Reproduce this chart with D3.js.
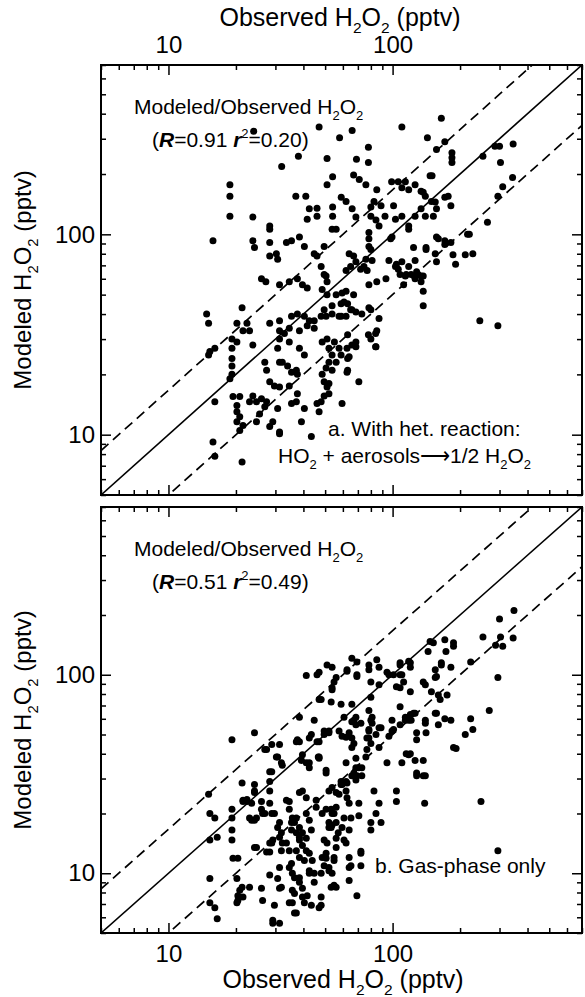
<!DOCTYPE html>
<meta charset="utf-8">
<style>
body { margin: 0; background: #fff; }
svg text { font-family: "Liberation Sans", Arial, Helvetica, sans-serif; fill: #000; }
.frame { fill: none; stroke: #000; stroke-width: 2; }
.tick line { stroke: #000; stroke-width: 1.5; }
.one2one { fill: none; stroke: #000; stroke-width: 1.6; }
.factor { fill: none; stroke: #000; stroke-width: 1.7; stroke-dasharray: 10,6; }
</style>
<body>
<script src="https://d3js.org/d3.v7.min.js"></script>
<script>

// axis ticks (pptv)
var axisDomain = [5, 700];
var majorTicks = [10, 100];
var minorTicks = [5, 6, 7, 8, 9, 20, 30, 40, 50, 60, 70, 80, 90, 200, 300, 400, 500, 600, 700];

// reference lines: y = k * x  (1:1 solid, the two others dashed)
var lineFactors = [1, 5 / 3, 0.5];

// panel texts
var statsA = ["0.91", "0.20"];
var statsB = ["0.51", "0.49"];

// [observed, modeled] H2O2, pptv -- a. with het. reaction
var pointsA = [
  [47,343],[66,330],[110,343],[58,303],[143,303],[165,380],[78,272],[38,245],[51,239],[32,218],[69,237],[78,228],[157,265],[24,327],
  [54,194],[51,177],[67,198],[71,188],[76,177],[85,167],
  [99,183],[106,183],[114,183],[110,171],[118,167],[126,177],[134,164],[147,196],
  [18.8,177],[18.8,155],[18.8,123],[23.8,122],
  [37,155],[41,155],[42.5,134],[46,135],[46,123],[41.6,119],
  [54,137],[54,123],[59,153],[62,146],[66,134],[68.6,122],
  [80,137],[82.6,146],[88.8,139],[80,123],[84.3,118],[92.5,123],[101,139],[103,119],
  [110,123],[118,110],[126,123],[134,134],[140,123],[152,123],[155,145],[157,134],
  [87,110],[28.3,110],[28.3,106],[15.8,93],[23.8,93],[24.2,86],
  [28.3,91],[28.3,78],[30.3,80],[30.7,75],
  [33.6,91],[35.4,93],[38.4,97],[40.4,87],
  [44.7,80],[46,78],[49.5,87],[53.7,106],[56,106],
  [64,80],[67,78],[68.6,73],[65,69],[62,66],
  [48,69],[49.5,63],[50.5,62],[51,58],
  [78.4,102],[78.4,95],[78.4,87],[80,84],[76,75],[81,74],[99.4,97],
  [26,60],[27.2,58],[31.3,56],[34.6,58],[37.6,60],[39.6,56],[41.6,54],
  [48.5,53],[51,50],[56,50],[59.5,51],[60.7,46],[58.9,45],[62,52],
  [78.4,56],[85,58],[93.4,60],
  [110,73],[118,69],[121,63],[126,74],[130,63],[134,62],[137,52],[141,84],[155,80],[157,73],[171,93],[157,97],
  [106,67],[114,62],[137,44],
  [21.3,43],[22.4,36],[21.5,33],[23,33],[23.8,28],
  [14.8,40],[15.1,36],
  [19.2,30],[19.2,27],[19.2,24],[19.2,22],[19.2,20],[18.8,19],
  [15.3,26],[16.1,27],[15.1,25],
  [20.2,36],[20.2,29],
  [28.3,36],[31.3,37],[31.3,33],[32.9,32],[34.6,34],
  [35.4,39],[37.6,40],[40.4,39],[42.5,37],
  [44.7,37],[48,39],[50.5,39],[53.7,40],[57.7,39],[62,39],[65.8,42],[68.6,41],[72.9,40],[80,42],[87,38],
  [41.6,35],[44.7,34],[49.5,42],[53.7,44],
  [38.4,33],[38.4,27],[40.4,25],
  [31.3,30],[34.6,29],[30.7,27],[31.3,23],
  [26.9,23],[27.4,21],
  [32.2,23],[34,22],[35.4,20.5],[37.6,20],[37.2,21],
  [34.6,17.5],[28.3,18.4],[29.7,17.5],[31.3,17.3],
  [23.8,15.6],[24.7,14.6],[27.4,14.6],[26.9,13.8],
  [30.7,13.5],[31.3,10.3],[29.2,11.6],[24.7,11.6],[25.5,12.7],
  [37.6,16],[37.2,14.6],[40.4,13.5],[39.2,11.6],[46,14.3],
  [48.5,29],[51,30],[52,27],[53.7,25],[52,23],[50.5,21.5],[56,23],[58.9,25],[62.6,27],[64,24.5],[62.6,20.5],
  [48.5,20],[49.5,18.4],[51,17.3],[49.5,15.6],[48,14.6],[59.5,14.3],[70.7,18.4],
  [65.8,28],[68.6,27.5],[80,30],[84.3,27.5],[85,33],[78.4,43],
  [23,14.6],[19.4,15.5],[20.8,15.5],[20.2,14],[20.2,13],[20.8,12.3],[20.2,11.6],[21.5,11.1],[20.8,10.5],
  [28.3,11],[31.3,10.1],[43.4,9.8],[16.1,14.6],[15.8,9.2],[16.1,7.8],[21.3,7.3],
  [96.3,74],[103,69],[115,63],[126,60],[134,58],[112,56],
  [47,13],[35.4,14.3],[26,15.1],
  [171,290],[184,255],[184,241],[184,228],[253,245],[286,275],[300,275],[345,282],[303,228],[150,196],
  [343,192],[310,173],[295,155],[265,115],[220,100],[182,139],[171,153],[177,155],[140,155],[137,162],
  [149,146],[160,95],[124,86],[141,86],[98,95],[118,106],
  [171,89],[182,91],[216,100],[186,79],[191,71],[211,79],[228,80],
  [128,65],[137,62],[104,71],[108,63],
  [72,67],[74.5,69],[77,66],
  [67,50],[63,45],[65,42],[59,39],
  [84,32],[78,31.5],[84,27.5],
  [245,37],[295,35],
  [63,31.5],[68.6,29],[63,24],[63,21],
  [55,29],[57.7,27],[53.7,21],[52,18],[52,16]
];

// [observed, modeled] H2O2, pptv -- b. gas-phase only
var pointsB = [
  [65.8,121],[69.3,116],[51,112],[53.7,109],[78.4,112],[85,119],[87,109],[41.2,99],[46,100],
  [56,97],[54.8,92],[53.7,86],[62.6,104],[69.3,100],[69.3,98],
  [80,92],[87,89],[94.4,103],[96.3,100],[101,100],
  [108,115],[120,115],[110,100],[112,92],[108,86],[104,87],[120,82],
  [137,92],[140,89],[155,106],[155,97],[147,147],[152,145],[144,131],[165,115],[171,150],[173,131],
  [48,75],[53.2,73],[58.9,71],[65.8,71],[38.4,61],[44.7,59],
  [60.7,61],[65.8,58],[68.6,56],[72.2,57],[68.6,61],
  [78.4,66],[80,59],[81,61],[88.8,54],
  [99.4,59],[108,69],[114,61],[118,59],[120,63],[126,64],[140,59],[155,64],[160,56],[171,60],
  [78.4,53],[78.4,48],[80,45],[76.8,42],[76,38.5],[87,43],
  [64,51],[62,48.5],[65.8,48],[65.8,43],[57.7,52],[59.5,49],[49.5,50],[52,52],
  [43.4,50],[42.5,48],[46,46],[37.2,46],[37.6,47],[31.3,44.5],[27.4,42],
  [30.7,38.5],[39.6,39.5],[42.5,36],[46.6,38.5],
  [94.4,36],[110,36],[115,40],[120,40],[126,37],[137,37],[128,32],[137,31],
  [62,36],[68.6,34],[67.2,32],[69.3,31],[72.9,31],[50.5,32],
  [58.9,29],[58.9,28],[62.6,28.5],[62,26],[53.7,27],[56,25.5],
  [82.6,26],[104,26],[104,23],[87,22.5],[139,22.5],
  [31.9,36],[28.3,32.5],[28.3,29],
  [21.3,28.5],[24.2,28],[24.2,26],[21.5,23.3],[22.4,23],[23.5,22.5],
  [28.3,22.5],[26.9,20],[28.9,20],[26,23],
  [15.1,25],[15.3,20],[16.1,19],[19.2,21],[19.2,19],
  [23,19],[24.2,18.5],[24.7,19],[15.3,14.7],[16.5,15.2],[19.2,16.5],[19.2,14.7],
  [19.4,11.9],[20.4,11.9],[24.2,13.5],[27.4,12.8],
  [33.6,23.3],[34.6,21],[35.7,19],[36.5,18],
  [38.4,25.5],[41.2,24],[45.6,23.3],[45.6,21.5],[48.5,20],[50.5,21],[53.7,20],
  [35.4,16.5],[37.2,16],[38.4,15.2],[38.4,14.7],[41.2,15],
  [30.7,17],[31.9,16],[32.2,14.2],[31.9,13],[33.6,14.2],[34.6,13],[37.2,13],[28.3,14.2],[29.2,14.7],
  [52,18],[56,18],[59.5,17],[49.5,14.7],[51,14.2],[56,15],[62,14.2],
  [64,12],[65.2,10.9],[72.2,12.9],[48.5,12],[50.5,11.9],[52,10.7],
  [38.4,12],[40.4,11.6],[42.5,10.3],[31.3,10.7],[34.6,10.7],[38.4,9.5],
  [30.7,9.4],[31.9,8.5],[31.3,8.4],[26,8.4],[26.3,7.3],
  [23,8.5],[20.8,8.2],[20.4,7.7],[20.4,7.3],[20.2,7.1],[21.5,7.6],
  [15.3,9.4],[15.3,7.1],[16.1,6.7],[16.5,5.9],
  [29.7,6.9],[34.6,7.1],[37.2,6.3],[29.2,5.6],[31.3,5.6],
  [39.6,7.6],[40.4,7.1],[43.4,6.9],[48,7.6],[48,6.9],[69.3,7.7],[64,9.2],
  [44.7,9],[53.2,8.5],[56,8.5],[38.4,9],
  [19.2,47],[24.2,51],[28.3,26],[26,21],
  [20.2,9.4],[21.3,8.5],[21.5,23],[22.4,23.5],[24.2,25.5],[23.5,18.5],[24.7,13.5],
  [26.9,42],[28.9,44.5],[30.3,38.5],[32.2,35],[28.9,32.5],
  [26.3,20],[29.7,20],[28.9,14.2],[28.3,12.8],[28.3,9.8],[29.2,5.8],
  [31.3,18],[31.3,15.2],[34.6,23],[37.2,19],[35.4,18],
  [35.4,11.2],[35.7,10],[36.5,9.5],[35.7,8.2],[36.5,7.9],[35.7,7.1],[36.5,6.3],
  [38.4,46],[47,46],[49.5,52],[39.2,37],[41.2,36],[42.5,34],[47,38.5],
  [39.6,26],[41.2,20],[42.5,18.5],[38.4,17],[39.6,16],[43.4,16.5],
  [39.6,13.8],[41.2,13],[42.5,12.6],[43.8,11.6],[49.5,10.9],[50.5,12.6],[54.8,11.6],
  [42.5,10],[44.7,10],[48,10],[39.6,8.4],[41.6,7.7],[47,6.7],
  [53.2,21],[56,21.5],[52,17],[56,13.5],[53.7,10],
  [50.5,33],[52,51],[53.7,84],[47,75],[47,38],
  [295,97],[270,66],[165,112],[182,109],[157,98],[223,116],
  [149,82],[160,79],[175,79],[163,75],[157,64],[182,59],
  [223,60],[211,50],[228,53],[187,43],[192,42.5],
  [140,57],[128,51],[128,47],[141,51],[121,59],[114,59],[124,64],
  [108,56],[101,53],[118,39.5],[128,31],[140,31],
  [248,23],[295,13],
  [84.3,20],[80,18],[80,16.5],[88.8,18],
  [72.2,12.6],[72.2,10.9],[64,10.7],[60.7,14.7],[54.8,12],[52,10.3],[54.8,8.7],
  [64,22.5],[70.7,22.5],[62.6,24],[65.2,19],[70.7,19.5],[60.7,19],
  [64,16.5],[57.2,16],[53.2,17],
  [96.3,49],[99.4,52],[87,54],[84.3,50],
  [80,77],[81,57],[78.4,52],[76.8,48],[72.9,34],
  [67.2,59],[67.2,45],[68.6,38],[70.7,34],[65.8,31],[68.6,29.5],[62,29],[59.5,28],
  [52,26],[57.7,25],[54.8,20],[53.7,17.5],
  [348,211],[300,191],[253,155],[303,155],[345,153],[288,141],[310,139],
  [187,145],[187,139],[118,117],[120,109],[108,112],[108,100],[62.6,106],[78.4,106],[47,103]
];

var width = 585, height = 997;
var left = 101, right = 582;

var H2O2 = [["H"], ["2", "sub"], ["O"], ["2", "sub"]];

var panels = [
  { id: "a", points: pointsA, top: 65, bottom: 495, labelTop: true, stats: statsA,
    notes: [
      { x: 328, y: 436, parts: [["a. With het. reaction:"]] },
      { x: 278, y: 463, parts: [["HO"], ["2", "sub"], [" + aerosols"], ["\u27F6"], ["1/2 H"], ["2", "sub"], ["O"], ["2", "sub"]] }
    ] },
  { id: "b", points: pointsB, top: 507, bottom: 933, labelTop: false, stats: statsB,
    notes: [
      { x: 375, y: 873, parts: [["b. Gas-phase only"]] }
    ] }
];

var svg = d3.select("body").append("svg")
    .attr("width", width)
    .attr("height", height);

// text with sub/superscripts built from [string, kind] parts
function rich(text, F, parts) {
  var cur = 0;
  parts.forEach(function(p) {
    var kind = p[1] || "";
    var off = kind == "sub" ? 0.28 * F : kind == "sup" ? -0.42 * F : 0;
    var ts = text.append("tspan").text(p[0]).attr("dy", off - cur);
    cur = off;
    if (kind == "sub" || kind == "sup") ts.attr("font-size", 0.62 * F);
    if (kind == "bi") ts.attr("font-weight", "bold").attr("font-style", "italic");
  });
  return text;
}

function makeAxis(side, scale) {
  if (side == "top") return d3.axisTop(scale);
  if (side == "bottom") return d3.axisBottom(scale);
  if (side == "left") return d3.axisLeft(scale);
  return d3.axisRight(scale);
}

panels.forEach(function(p) {
  var x = d3.scaleLog().domain(axisDomain).range([left, right]);
  var y = d3.scaleLog().domain(axisDomain).range([p.bottom, p.top]);

  var g = svg.append("g").attr("class", "panel-" + p.id);

  g.append("clipPath").attr("id", "clip-" + p.id)
    .append("rect")
      .attr("x", left).attr("y", p.top)
      .attr("width", right - left).attr("height", p.bottom - p.top);

  // axes, ticks pointing inward
  var sides = [
    { side: "top", scale: x, t: "translate(0," + p.top + ")", label: p.labelTop, pad: 12 },
    { side: "bottom", scale: x, t: "translate(0," + p.bottom + ")", label: !p.labelTop, pad: 12 },
    { side: "left", scale: y, t: "translate(" + left + ",0)", label: true, pad: 6 },
    { side: "right", scale: y, t: "translate(" + right + ",0)", label: false, pad: 6 }
  ];
  sides.forEach(function(s) {
    g.append("g").attr("transform", s.t)
        .call(makeAxis(s.side, s.scale).tickValues(minorTicks).tickSize(-5).tickFormat(""))
        .call(function(a) { a.select(".domain").remove(); });
    g.append("g").attr("transform", s.t)
        .call(makeAxis(s.side, s.scale).tickValues(majorTicks).tickSize(-10).tickPadding(s.pad)
          .tickFormat(s.label ? d3.format("d") : ""))
        .attr("font-size", 24)
        .call(function(a) { a.select(".domain").remove(); });
  });

  // reference lines
  var line = d3.line();
  g.append("g").attr("clip-path", "url(#clip-" + p.id + ")")
    .selectAll("path")
    .data(lineFactors)
    .join("path")
      .attr("class", function(k, i) { return i == 0 ? "one2one" : "factor"; })
      .attr("d", function(k) {
        return line(axisDomain.map(function(v) { return [x(v), y(v * k)]; }));
      });

  // annotation texts
  rich(g.append("text").attr("x", 134).attr("y", p.top + 49).attr("font-size", 21),
       21, [["Modeled/Observed "]].concat(H2O2));
  rich(g.append("text").attr("x", 152).attr("y", p.top + 82).attr("font-size", 21),
       21, [["("], ["R", "bi"], ["=" + p.stats[0] + " "], ["r", "bi"], ["2", "sup"], ["=" + p.stats[1] + ")"]]);
  p.notes.forEach(function(n) {
    rich(g.append("text").attr("x", n.x).attr("y", n.y).attr("font-size", 21), 21, n.parts);
  });

  // y title
  rich(g.append("text")
      .attr("transform", "translate(31," + ((p.top + p.bottom) / 2) + ") rotate(-90)")
      .attr("text-anchor", "middle")
      .attr("font-size", 24), 24, [["Modeled "]].concat(H2O2).concat([[" (pptv)"]]));

  // points
  g.append("g")
    .selectAll("circle")
    .data(p.points)
    .join("circle")
      .attr("cx", function(d) { return x(d[0]); })
      .attr("cy", function(d) { return y(d[1]); })
      .attr("r", 3.5)
      .attr("fill", "#000");

  // frame
  g.append("rect").attr("class", "frame")
    .attr("x", left).attr("y", p.top)
    .attr("width", right - left).attr("height", p.bottom - p.top);
});

// x titles
rich(svg.append("text").attr("x", 340).attr("y", 26).attr("text-anchor", "middle").attr("font-size", 25),
     25, [["Observed "]].concat(H2O2).concat([[" (pptv)"]]));
rich(svg.append("text").attr("x", 343).attr("y", 988).attr("text-anchor", "middle").attr("font-size", 25),
     25, [["Observed "]].concat(H2O2).concat([[" (pptv)"]]));

</script>
</body>
